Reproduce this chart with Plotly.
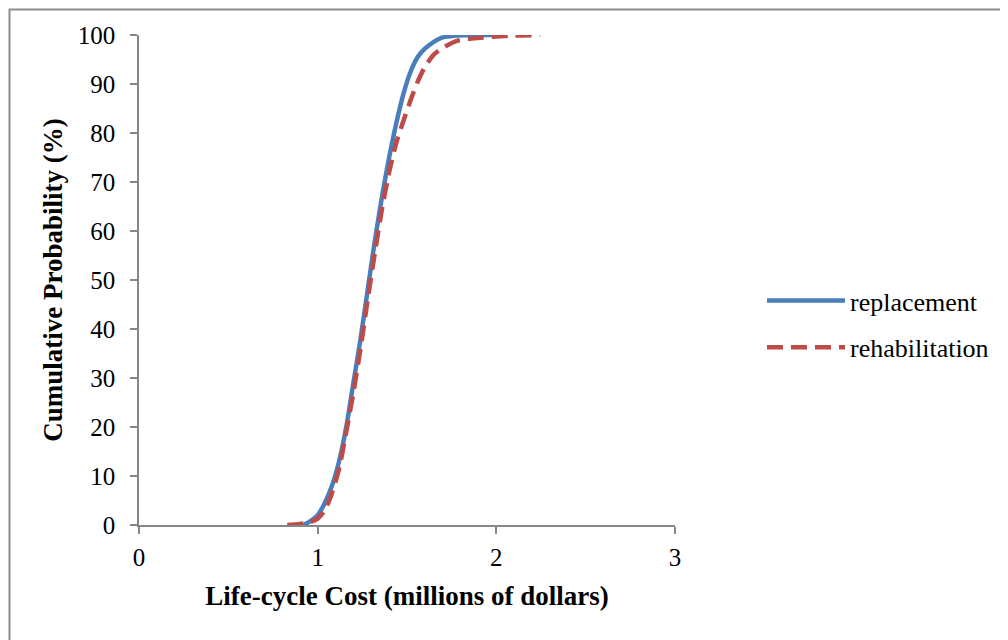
import plotly.graph_objects as go

# Cumulative distribution of life-cycle cost (millions of dollars) vs cumulative probability (%)
replacement_cost = [0.92, 0.96, 1.00, 1.04, 1.08, 1.12, 1.16, 1.20, 1.24, 1.28, 1.32, 1.36,
                    1.40, 1.44, 1.48, 1.52, 1.56, 1.60, 1.65, 1.70, 1.78, 1.90, 2.00]
replacement_prob = [0.0, 0.8, 2.0, 4.5, 8.0, 13.0, 20.0, 29.0, 38.0, 48.0, 58.0, 67.0,
                    75.0, 82.0, 88.0, 92.5, 95.5, 97.2, 98.6, 99.5, 99.9, 100.0, 100.0]

rehab_cost = [0.83, 0.90, 0.96, 1.00, 1.04, 1.08, 1.12, 1.16, 1.20, 1.24, 1.28, 1.32, 1.36,
              1.40, 1.44, 1.48, 1.52, 1.56, 1.60, 1.65, 1.70, 1.78, 1.90, 2.00, 2.10, 2.245]
rehab_prob = [0.0, 0.2, 0.6, 1.3, 3.0, 6.5, 11.5, 19.0, 27.0, 36.0, 46.0, 55.5, 64.5,
              72.0, 78.0, 82.5, 86.7, 90.5, 93.5, 96.0, 97.4, 98.8, 99.4, 99.7, 99.9, 100.0]

x_ticks = [0, 1, 2, 3]
y_ticks = [0, 10, 20, 30, 40, 50, 60, 70, 80, 90, 100]

FONT = "Liberation Serif, Times New Roman, serif"
AXIS_GRAY = "#868686"

# page body has an 8px margin, so the figure is sized to fit the window
W, H = 1000, 632
L, R, T, B = 131, 333, 27, 115
PW, PH = W - L - R, H - T - B

fig = go.Figure()
fig.add_trace(go.Scatter(
    x=replacement_cost, y=replacement_prob, mode="lines", name="replacement",
    line=dict(color="#4a7ebb", width=4.5, shape="spline", smoothing=0.6),
    legendgroup="a",
))
fig.add_trace(go.Scatter(
    x=rehab_cost, y=rehab_prob, mode="lines", name="rehabilitation",
    line=dict(color="#be4b48", width=4.5, dash="16px,8px", shape="spline", smoothing=0.6),
    legendgroup="b",
))

fig.update_layout(
    width=W, height=H,
    margin=dict(l=L, r=R, t=T, b=B),
    paper_bgcolor="white", plot_bgcolor="white",
    font=dict(family=FONT, size=25, color="black"),
    showlegend=True,
    legend=dict(x=(762 - 8 - L) / PW, y=0.41, xanchor="left", yanchor="middle",
                font=dict(family=FONT, size=26), tracegroupgap=10,
                bgcolor="rgba(0,0,0,0)", itemwidth=78),
    xaxis=dict(range=[0, 3], tickvals=x_ticks, ticktext=[str(v) for v in x_ticks],
               showgrid=False, zeroline=False, showline=True, linecolor=AXIS_GRAY,
               linewidth=1.5, ticks="outside", ticklen=7, tickcolor=AXIS_GRAY, tickwidth=1.5,
               tickfont=dict(family=FONT, size=25), ticklabelstandoff=2,
               title=dict(text="<b>Life-cycle Cost (millions of dollars)</b>",
                          font=dict(family=FONT, size=27), standoff=16)),
    yaxis=dict(range=[0, 100], tickvals=y_ticks, ticktext=[str(v) for v in y_ticks],
               showgrid=False, zeroline=False, showline=True, linecolor=AXIS_GRAY,
               linewidth=1.5, ticks="outside", ticklen=7, tickcolor=AXIS_GRAY, tickwidth=1.5,
               tickfont=dict(family=FONT, size=25), ticklabelstandoff=10,
               title=dict(text="<b>Cumulative Probability (%)</b>",
                          font=dict(family=FONT, size=27), standoff=7)),
    shapes=[dict(type="rect", xref="paper", yref="paper",
                 x0=(1.5 - L) / PW, x1=(W + 20 - L) / PW,
                 y0=-(B + 20) / PH, y1=1 + (T - 1.5) / PH,
                 line=dict(color="#8c8c8c", width=2), fillcolor="rgba(0,0,0,0)", layer="above")],
)

fig.write_html("out.html")
